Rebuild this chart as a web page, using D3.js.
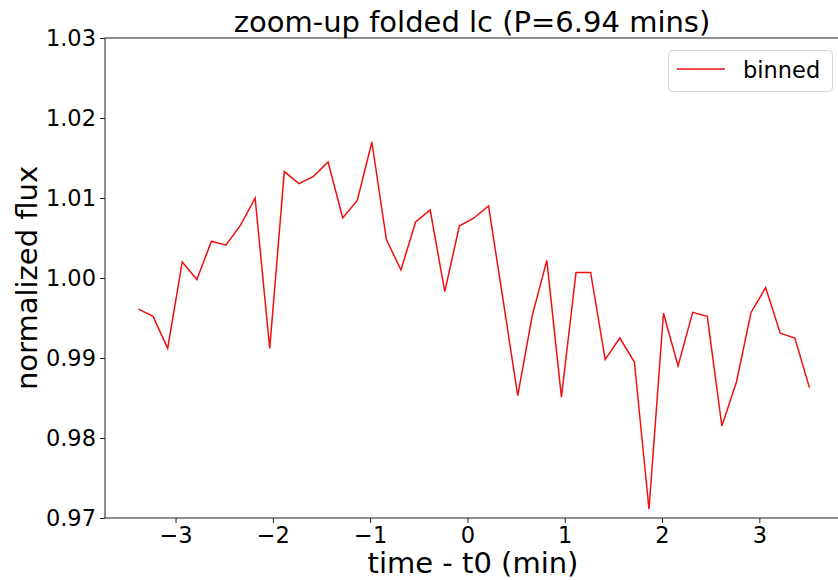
<!DOCTYPE html>
<html>
<head>
<meta charset="utf-8">
<script src="https://cdn.jsdelivr.net/npm/d3@7"></script>
<style>
  body { margin: 0; background: #fff; }
  svg text { font-family: "DejaVu Sans", sans-serif; fill: #000; }
</style>
</head>
<body>
<div id="chart"></div>
<script>
// binned folded light curve
var times = [-3.381, -3.231, -3.081, -2.931, -2.781, -2.631, -2.482, -2.332, -2.182, -2.032,
    -1.882, -1.732, -1.582, -1.432, -1.282, -1.132, -0.982, -0.833, -0.683, -0.533,
    -0.383, -0.233, -0.083, 0.067, 0.217, 0.367, 0.517, 0.666, 0.816, 0.966,
    1.116, 1.266, 1.416, 1.566, 1.716, 1.866, 2.015, 2.165, 2.315, 2.465,
    2.615, 2.765, 2.915, 3.065, 3.215, 3.365, 3.515];
var flux = [0.9961, 0.9952, 0.9912, 1.0020, 0.9998, 1.0046, 1.0041, 1.0066, 1.0100, 0.9912,
    1.0133, 1.0118, 1.0127, 1.0145, 1.0075, 1.0097, 1.0170, 1.0048, 1.0010, 1.0070,
    1.0085, 0.9983, 1.0065, 1.0075, 1.0090, 0.9972, 0.9853, 0.9953, 1.0022, 0.9851,
    1.0007, 1.0007, 0.9898, 0.9925, 0.9895, 0.9711, 0.9956, 0.9890, 0.9957, 0.9952,
    0.9815, 0.9870, 0.9957, 0.9988, 0.9931, 0.9925, 0.9863];
var xTicks = [-3, -2, -1, 0, 1, 2, 3];
var yTicks = [0.97, 0.98, 0.99, 1.00, 1.01, 1.02, 1.03];

var width = 838, height = 580;
var plotLeft = 105, plotTop = 38, plotRight = 843, plotBottom = 518;

var svg = d3.select("#chart").append("svg").attr("width", width).attr("height", height);

var x = d3.scaleLinear().domain([-3.725, 3.86]).range([plotLeft, plotRight]);
var y = d3.scaleLinear().domain([0.97, 1.03]).range([plotBottom, plotTop]);

// axes
var xAxis = svg.append("g").attr("transform", "translate(0," + plotBottom + ")")
    .call(d3.axisBottom(x).tickValues(xTicks).tickFormat(d3.format("d")).tickSize(5).tickPadding(4));
var yAxis = svg.append("g").attr("transform", "translate(" + plotLeft + ",0)")
    .call(d3.axisLeft(y).tickValues(yTicks).tickFormat(d3.format(".2f")).tickSize(5).tickPadding(4));
[xAxis, yAxis].forEach(function (g) {
    g.select(".domain").remove();
    g.selectAll(".tick line").attr("stroke", "#222").attr("stroke-width", 1);
    g.selectAll(".tick text").attr("fill", "#000")
        .style("font-size", "22.5px").style("font-family", "DejaVu Sans");
});

// spines
svg.append("rect").attr("x", plotLeft).attr("y", plotTop)
    .attr("width", plotRight - plotLeft).attr("height", plotBottom - plotTop)
    .attr("fill", "none").attr("stroke", "#222").attr("stroke-width", 1);

// the curve
var line = d3.line().x(function (d, i) { return x(times[i]); }).y(function (d) { return y(d); });
svg.append("path").datum(flux)
    .attr("d", line)
    .attr("fill", "none").attr("stroke", "#f01010").attr("stroke-width", 1.5)
    .attr("stroke-linejoin", "miter");

// titles
svg.append("text").attr("x", 472).attr("y", 32).attr("text-anchor", "middle")
    .style("font-size", "29px").text("zoom-up folded lc (P=6.94 mins)");
svg.append("text").attr("x", 473).attr("y", 573).attr("text-anchor", "middle")
    .style("font-size", "29px").text("time - t0 (min)");
svg.append("text").attr("transform", "translate(37," + ((plotTop + plotBottom) / 2) + ") rotate(-90)")
    .attr("text-anchor", "middle")
    .style("font-size", "29px").text("normalized flux");

// legend
var legend = svg.append("g");
legend.append("rect").attr("x", 668.5).attr("y", 50.5).attr("width", 164).attr("height", 41)
    .attr("rx", 4).attr("fill", "#fff").attr("fill-opacity", 0.8)
    .attr("stroke", "#d6d6d6").attr("stroke-width", 1);
legend.append("line").attr("x1", 677).attr("x2", 725).attr("y1", 69).attr("y2", 69)
    .attr("stroke", "#f01010").attr("stroke-width", 1.5);
legend.append("text").attr("x", 743).attr("y", 78)
    .style("font-size", "22.5px").text("binned");
</script>
</body>
</html>
